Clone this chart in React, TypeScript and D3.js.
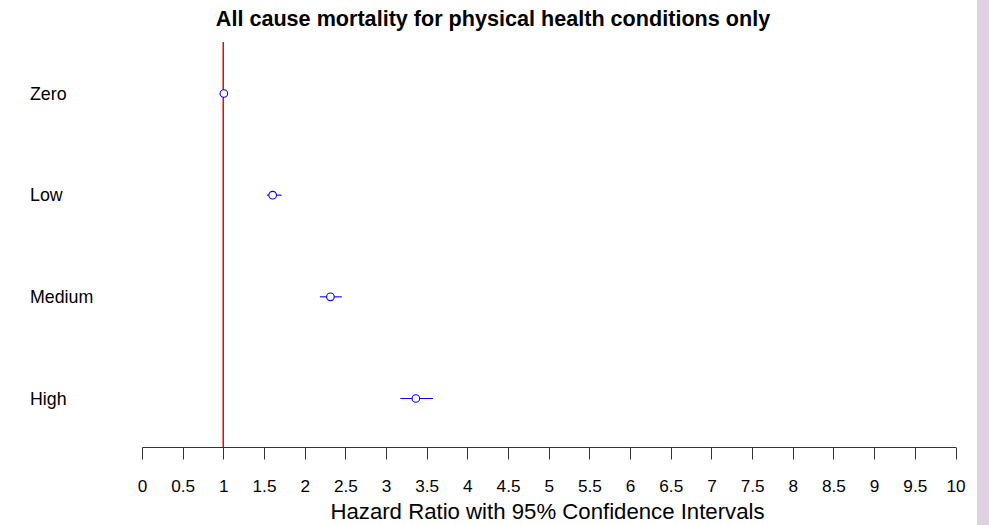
import React from "react";
import * as d3 from "d3";

const categories = ["Zero", "Low", "Medium", "High"];
const hazardRatios = [1.0, 1.6, 2.31, 3.36];
const lowerCI = [1.0, 1.53, 2.18, 3.17];
const upperCI = [1.0, 1.71, 2.45, 3.57];
const tickValues = d3.range(0, 10.01, 0.5);
const title = "All cause mortality for physical health conditions only";
const xTitle = "Hazard Ratio with 95% Confidence Intervals";

const W = 989;
const H = 525;

const snap = (v: number) => Math.floor(v) + 0.5;

export default function App() {
  const x = d3.scaleLinear().domain([0, 10]).range([142.5, 956]);
  const y = d3.scalePoint<string>().domain(categories).range([93, 398]);
  const axisY = 447.5;
  const font = "Liberation Sans, Arial, sans-serif";
  return (
    <svg width={W} height={H} style={{ position: "absolute", left: 0, top: 0, background: "#fff" }}>
      <rect x={0} y={0} width={W} height={H} fill="#fff" />
      <rect x={977} y={0} width={12} height={H} fill="#dfd0e2" />
      <text x={493} y={26} textAnchor="middle" fontFamily={font} fontWeight="bold" fontSize={21.6} fill="#000">
        {title}
      </text>
      <line x1={x(1) - 0.6} x2={x(1) - 0.6} y1={42} y2={axisY} stroke="#ff0000" strokeWidth={1.5} />
      {categories.map((c, i) => (
        <g key={c}>
          <text x={30} y={(y(c) as number) + 6.5} fontFamily={font} fontSize={17.8} fill="#000">
            {c}
          </text>
          {upperCI[i] > lowerCI[i] && (
            <line x1={x(lowerCI[i])} x2={x(upperCI[i])} y1={(y(c) as number) + 0.5} y2={(y(c) as number) + 0.5} stroke="#0000ff" strokeWidth={1.1} />
          )}
          <circle cx={x(hazardRatios[i])} cy={(y(c) as number) + 0.5} r={3.8} fill="white" stroke="#0000ff" strokeWidth={1.1} />
        </g>
      ))}
      <line x1={x(0)} x2={x(10)} y1={axisY} y2={axisY} stroke="#333" strokeWidth={1} />
      {tickValues.map((t) => (
        <g key={t}>
          <line x1={snap(x(t))} x2={snap(x(t))} y1={axisY} y2={axisY + 12} stroke="#333" strokeWidth={1} />
          <text x={x(t)} y={492} textAnchor="middle" fontFamily={font} fontSize={17.2} fill="#000">
            {String(t)}
          </text>
        </g>
      ))}
      <text x={547.5} y={519} textAnchor="middle" fontFamily={font} fontSize={22.2} fill="#000">
        {xTitle}
      </text>
    </svg>
  );
}
